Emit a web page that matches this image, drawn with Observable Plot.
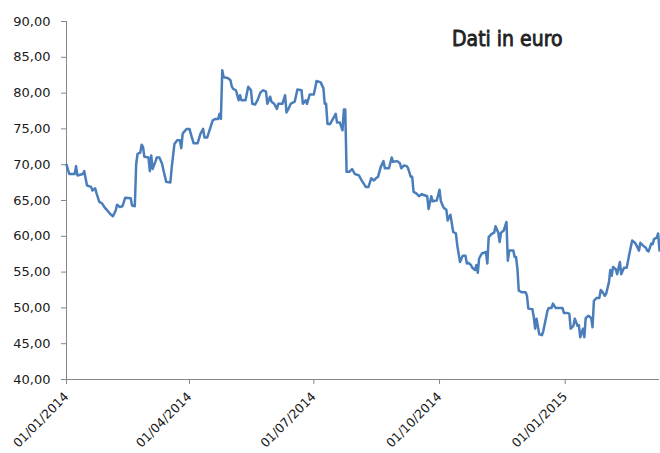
<!DOCTYPE html>
<html>
<head>
<meta charset="utf-8">
<script src="https://cdn.jsdelivr.net/npm/d3@7"></script>
<script src="https://cdn.jsdelivr.net/npm/@observablehq/plot@0.6"></script>
<style>
  html, body { margin: 0; padding: 0; background: #fff; }
  #chart { width: 660px; height: 453px; }
</style>
</head>
<body>
<div id="chart"></div>
<script>
const title = "Dati in euro";

const dates = [
  "2014-01-01","2014-01-03","2014-01-07","2014-01-08","2014-01-09","2014-01-13","2014-01-14","2014-01-16","2014-01-19","2014-01-20",
  "2014-01-22","2014-01-23","2014-01-25","2014-01-27","2014-01-29","2014-01-31","2014-02-02","2014-02-04","2014-02-06","2014-02-07",
  "2014-02-09","2014-02-11","2014-02-13","2014-02-17","2014-02-18","2014-02-20","2014-02-21","2014-02-22","2014-02-24","2014-02-25",
  "2014-02-26","2014-02-27","2014-03-02","2014-03-03","2014-03-04","2014-03-05","2014-03-07","2014-03-08","2014-03-10","2014-03-12",
  "2014-03-13","2014-03-15","2014-03-18","2014-03-19","2014-03-21","2014-03-23","2014-03-25","2014-03-26","2014-03-27","2014-03-28",
  "2014-03-30","2014-04-01","2014-04-02","2014-04-04","2014-04-07","2014-04-09","2014-04-11","2014-04-12","2014-04-14","2014-04-16",
  "2014-04-18","2014-04-20","2014-04-22","2014-04-23","2014-04-24","2014-04-25","2014-04-26","2014-04-29","2014-05-01","2014-05-02",
  "2014-05-03","2014-05-05","2014-05-07","2014-05-08","2014-05-09","2014-05-12","2014-05-14","2014-05-16","2014-05-17","2014-05-19",
  "2014-05-21","2014-05-23","2014-05-25","2014-05-27","2014-05-28","2014-05-30","2014-05-31","2014-06-02","2014-06-04","2014-06-05",
  "2014-06-08","2014-06-10","2014-06-11","2014-06-13","2014-06-14","2014-06-17","2014-06-19","2014-06-22","2014-06-23","2014-06-25",
  "2014-06-26","2014-06-28","2014-07-01","2014-07-02","2014-07-03","2014-07-06","2014-07-08","2014-07-09","2014-07-10","2014-07-11",
  "2014-07-13","2014-07-17","2014-07-18","2014-07-20","2014-07-22","2014-07-23","2014-07-24","2014-07-25","2014-07-27","2014-07-29",
  "2014-07-31","2014-08-03","2014-08-05","2014-08-08","2014-08-10","2014-08-12","2014-08-14","2014-08-16","2014-08-17","2014-08-19",
  "2014-08-21","2014-08-22","2014-08-25","2014-08-27","2014-08-28","2014-08-31","2014-09-02","2014-09-03","2014-09-05","2014-09-07",
  "2014-09-08","2014-09-10","2014-09-11","2014-09-12","2014-09-14","2014-09-16","2014-09-18","2014-09-19","2014-09-22","2014-09-23",
  "2014-09-25","2014-09-26","2014-09-29","2014-10-01","2014-10-02","2014-10-04","2014-10-06","2014-10-07","2014-10-08","2014-10-09",
  "2014-10-11","2014-10-13","2014-10-14","2014-10-16","2014-10-18","2014-10-20","2014-10-21","2014-10-22","2014-10-24","2014-10-25",
  "2014-10-27","2014-10-28","2014-10-29","2014-10-30","2014-11-01","2014-11-04","2014-11-05","2014-11-06","2014-11-08","2014-11-10",
  "2014-11-11","2014-11-13","2014-11-14","2014-11-15","2014-11-17","2014-11-19","2014-11-20","2014-11-21","2014-11-24","2014-11-25",
  "2014-11-26","2014-11-27","2014-11-28","2014-11-30","2014-12-03","2014-12-04","2014-12-05","2014-12-08","2014-12-09","2014-12-10",
  "2014-12-11","2014-12-13","2014-12-15","2014-12-16","2014-12-19","2014-12-20","2014-12-22","2014-12-23","2014-12-25","2014-12-27",
  "2014-12-30","2014-12-31","2015-01-02","2015-01-04","2015-01-05","2015-01-07","2015-01-08","2015-01-10","2015-01-11","2015-01-12",
  "2015-01-14","2015-01-15","2015-01-16","2015-01-18","2015-01-20","2015-01-21","2015-01-22","2015-01-24","2015-01-26","2015-01-27",
  "2015-01-28","2015-01-30","2015-01-31","2015-02-02","2015-02-03","2015-02-04","2015-02-05","2015-02-07","2015-02-08","2015-02-10",
  "2015-02-11","2015-02-13","2015-02-15","2015-02-17","2015-02-19","2015-02-21","2015-02-22","2015-02-24","2015-02-25","2015-02-27",
  "2015-03-01","2015-03-02","2015-03-03","2015-03-05","2015-03-06","2015-03-07","2015-03-09","2015-03-10","2015-03-11"
];

const prices = [
  70.0,68.7,68.7,69.8,68.5,68.7,69.1,67.1,66.9,66.4,
  66.7,66.0,64.8,64.6,64.0,63.6,63.1,62.8,63.6,64.4,
  64.1,64.2,65.4,65.3,64.3,64.2,70.1,71.5,71.7,72.8,
  72.5,71.1,71.0,69.1,71.3,69.4,70.4,71.0,71.0,70.1,
  69.2,67.6,67.5,69.6,72.9,73.4,73.4,72.3,74.3,74.6,
  75.0,75.0,74.3,73.0,73.0,74.3,75.0,73.8,73.8,75.0,
  76.2,76.4,76.4,77.1,76.4,83.2,82.2,82.1,81.8,80.9,
  80.6,80.4,79.0,79.7,79.0,79.0,80.9,80.4,78.5,78.4,
  79.1,80.1,80.4,80.2,78.5,79.5,78.8,78.5,77.8,78.5,
  78.5,79.7,77.3,78.0,78.5,78.8,80.5,80.4,78.5,79.0,
  78.5,79.8,79.8,80.7,81.7,81.5,80.7,78.5,78.5,75.7,
  75.7,77.1,75.9,75.9,74.8,77.7,77.7,69.0,69.0,69.4,
  68.7,68.5,67.8,66.9,66.9,68.1,67.8,68.2,68.3,69.7,
  70.5,69.5,69.5,71.0,70.4,70.5,70.2,69.5,69.9,69.8,
  69.5,68.3,68.3,66.2,66.0,65.6,65.9,65.8,65.6,63.8,
  65.6,64.9,65.0,66.5,64.9,64.0,63.7,62.2,62.7,63.0,
  60.6,60.4,58.7,56.4,57.3,57.3,56.2,56.3,56.0,55.6,
  55.3,56.0,54.9,56.9,57.6,57.8,56.2,59.9,60.3,60.5,
  61.4,60.5,59.2,60.5,60.8,62.0,56.6,58.0,58.0,57.1,
  57.1,55.5,52.4,52.2,52.2,51.7,49.9,49.8,48.7,47.1,
  48.5,46.3,46.2,46.8,49.6,50.0,50.0,50.6,50.0,50.0,
  50.0,49.3,49.3,49.2,47.1,47.5,48.5,47.5,47.6,45.9,
  47.1,45.9,48.6,48.9,48.6,47.3,51.0,51.4,51.4,52.5,
  52.3,51.7,52.0,53.6,55.3,54.5,55.7,55.4,54.7,56.4,
  54.7,55.6,55.6,57.6,59.4,59.1,58.8,58.0,59.1,58.7,
  58.4,58.0,57.9,59.0,58.9,59.6,59.8,60.4,58.0
];

const yTicks = [40, 45, 50, 55, 60, 65, 70, 75, 80, 85, 90];
const xTicks = ["2014-01-01", "2014-04-01", "2014-07-01", "2014-10-01", "2015-01-01"];
const xDomain = ["2014-01-01", "2015-03-11"];

const parse = d3.utcParse("%Y-%m-%d");
const data = dates.map((d, i) => ({date: parse(d), value: prices[i]}));

const axisColor = "#868686";
const textColor = "#1a1a1a";

const chart = Plot.plot({
  width: 660,
  height: 453,
  marginLeft: 66,
  marginRight: 1,
  marginTop: 21,
  marginBottom: 74,
  style: {fontFamily: "DejaVu Sans", fontSize: "13px", color: textColor, background: "#fff"},
  x: {type: "utc", domain: xDomain.map(parse)},
  y: {domain: [40, 90]},
  marks: [
    Plot.axisY({
      ticks: yTicks,
      tickSize: 5,
      tickPadding: 11,
      stroke: axisColor,
      fill: textColor,
      fontSize: 13,
      tickFormat: d => d.toFixed(2).replace(".", ","),
      label: null
    }),
    Plot.axisX({
      ticks: xTicks.map(parse),
      tickSize: 5,
      tickPadding: 10,
      tickRotate: -45,
      stroke: axisColor,
      fill: textColor,
      fontSize: 12.5,
      tickFormat: d3.utcFormat("%d/%m/%Y"),
      label: null
    }),
    Plot.ruleX([parse(xDomain[0])], {stroke: axisColor, strokeWidth: 1}),
    Plot.ruleY([40], {stroke: axisColor, strokeWidth: 1}),
    Plot.lineY(data, {x: "date", y: "value", stroke: "#4a7ebb", strokeWidth: 2.5, strokeLinejoin: "round"}),
    Plot.text([title], {
      frameAnchor: "top-right",
      dx: -97,
      dy: 24,
      text: d => d,
      textAnchor: "end",
      lineAnchor: "bottom",
      fontFamily: "DejaVu Sans Condensed",
      fontSize: 21,
      fill: "#222",
      stroke: "#222",
      strokeWidth: 0.8
    })
  ]
});

document.getElementById("chart").appendChild(chart);
</script>
</body>
</html>
